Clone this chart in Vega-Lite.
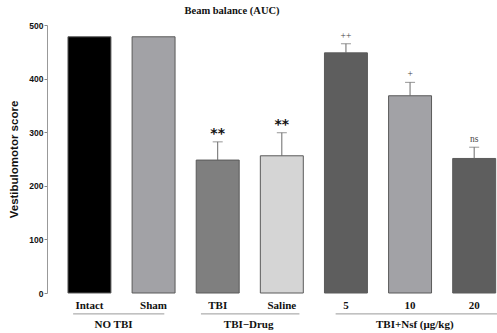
{
  "$schema": "https://vega.github.io/schema/vega-lite/v6.json",
  "width": 450,
  "height": 268,
  "autosize": {"type": "none"},
  "padding": {"left": 47, "top": 25, "right": 0, "bottom": 40},
  "background": "white",
  "config": {
    "view": {"stroke": null},
    "axisY": {
      "titleFont": "Liberation Sans",
      "titleFontWeight": "bold",
      "titleFontSize": 11.5,
      "titleColor": "#111",
      "titlePadding": 9,
      "labelOverlap": false,
      "labelFont": "Liberation Sans",
      "labelFontWeight": "bold",
      "labelFontSize": 8.5,
      "labelColor": "#111",
      "labelPadding": 1,
      "tickSize": 3,
      "tickColor": "#888",
      "domainColor": "#999",
      "grid": false
    }
  },
  "title": {
    "text": "Beam balance (AUC)",
    "font": "Liberation Serif",
    "fontSize": 10.5,
    "fontWeight": "bold",
    "color": "#111",
    "anchor": "middle",
    "frame": "group",
    "offset": 5,
    "dx": -40
  },
  "data": {
    "values": [
      {"label": "Intact", "value": 478},
      {"label": "Sham", "value": 478},
      {"label": "TBI", "value": 248, "upper": 282, "sig": "**"},
      {"label": "Saline", "value": 256, "upper": 299, "sig": "**"},
      {"label": "5", "value": 448, "upper": 465, "sig": "++"},
      {"label": "10", "value": 368, "upper": 393, "sig": "+"},
      {"label": "20", "value": 251, "upper": 272, "sig": "ns"}
    ]
  },
  "encoding": {
    "x": {
      "field": "label",
      "type": "nominal",
      "sort": null,
      "scale": {
        "domain": ["Intact", "Sham", "TBI", "Saline", "5", "10", "20"],
        "paddingInner": 0.33,
        "paddingOuter": 0.174,
        "align": 0.94
      },
      "axis": {
        "title": null,
        "labelAngle": 0,
        "domain": false,
        "ticks": false,
        "labelPadding": 6,
        "labelFont": "Liberation Serif",
        "labelFontWeight": "bold",
        "labelFontSize": 11,
        "labelColor": "#111"
      }
    }
  },
  "layer": [
    {
      "mark": {"type": "bar", "stroke": "#5a5a5a", "strokeWidth": 1},
      "encoding": {
        "y": {
          "field": "value",
          "type": "quantitative",
          "scale": {"domain": [0, 500], "nice": false},
          "axis": {
            "title": "Vestibulomotor score",
            "values": [0, 100, 200, 300, 400, 500]
          }
        },
        "color": {
          "field": "label",
          "type": "nominal",
          "scale": {
            "domain": ["Intact", "Sham", "TBI", "Saline", "5", "10", "20"],
            "range": ["#000000", "#a2a2a6", "#7f7f7f", "#d5d5d5", "#5e5e5e", "#a2a2a6", "#5e5e5e"]
          },
          "legend": null
        }
      }
    },
    {
      "mark": {"type": "rule", "color": "#6a6a6a", "strokeWidth": 1},
      "transform": [{"filter": "isValid(datum.upper)"}],
      "encoding": {
        "y": {"field": "value", "type": "quantitative"},
        "y2": {"field": "upper"}
      }
    },
    {
      "mark": {"type": "tick", "color": "#6a6a6a", "thickness": 1, "size": 10, "orient": "horizontal"},
      "transform": [{"filter": "isValid(datum.upper)"}],
      "encoding": {
        "y": {"field": "upper", "type": "quantitative"}
      }
    },
    {
      "mark": {"type": "text", "font": "DejaVu Sans", "fontWeight": "bold", "fontSize": 14, "baseline": "middle", "dy": -8, "fill": "#111111"},
      "transform": [{"filter": "datum.sig === '**'"}],
      "encoding": {
        "y": {"field": "upper", "type": "quantitative"},
        "text": {"field": "sig"}
      }
    },
    {
      "mark": {"type": "text", "font": "Liberation Serif", "fontSize": 9.5, "baseline": "alphabetic", "dy": -5, "fill": "#444"},
      "transform": [{"filter": "isValid(datum.sig) && datum.sig !== '**'"}],
      "encoding": {
        "y": {"field": "upper", "type": "quantitative"},
        "text": {"field": "sig"}
      }
    },
    {
      "data": {"values": [{}]},
      "mark": {"type": "rule", "color": "#999", "strokeWidth": 1},
      "encoding": {
        "x": {"datum": "Intact", "bandPosition": 0.12},
        "x2": {"datum": "Sham", "bandPosition": 0.75},
        "y": {"datum": -39}
      }
    },
    {
      "data": {"values": [{}]},
      "mark": {"type": "rule", "color": "#999", "strokeWidth": 1},
      "encoding": {
        "x": {"datum": "TBI", "bandPosition": 0.11},
        "x2": {"datum": "Saline", "bandPosition": 0.91},
        "y": {"datum": -39}
      }
    },
    {
      "data": {"values": [{}]},
      "mark": {"type": "rule", "color": "#999", "strokeWidth": 1},
      "encoding": {
        "x": {"datum": "5", "bandPosition": 0.26},
        "x2": {"datum": "20", "bandPosition": 1.1},
        "y": {"datum": -39}
      }
    },
    {
      "data": {"values": [{}]},
      "mark": {"type": "text", "font": "Liberation Serif", "fontWeight": "bold", "fontSize": 11, "baseline": "alphabetic", "fill": "#111", "text": "NO TBI"},
      "encoding": {
        "x": {"datum": "Intact", "bandPosition": 1.06},
        "y": {"datum": -66}
      }
    },
    {
      "data": {"values": [{}]},
      "mark": {"type": "text", "font": "Liberation Serif", "fontWeight": "bold", "fontSize": 11, "baseline": "alphabetic", "fill": "#111", "text": "TBI−Drug"},
      "encoding": {
        "x": {"datum": "TBI", "bandPosition": 1.22},
        "y": {"datum": -66}
      }
    },
    {
      "data": {"values": [{}]},
      "mark": {"type": "text", "font": "Liberation Serif", "fontWeight": "bold", "fontSize": 11, "baseline": "alphabetic", "fill": "#111", "text": "TBI+Nsf (μg/kg)"},
      "encoding": {
        "x": {"datum": "10", "bandPosition": 0.61},
        "y": {"datum": -66}
      }
    }
  ]
}
